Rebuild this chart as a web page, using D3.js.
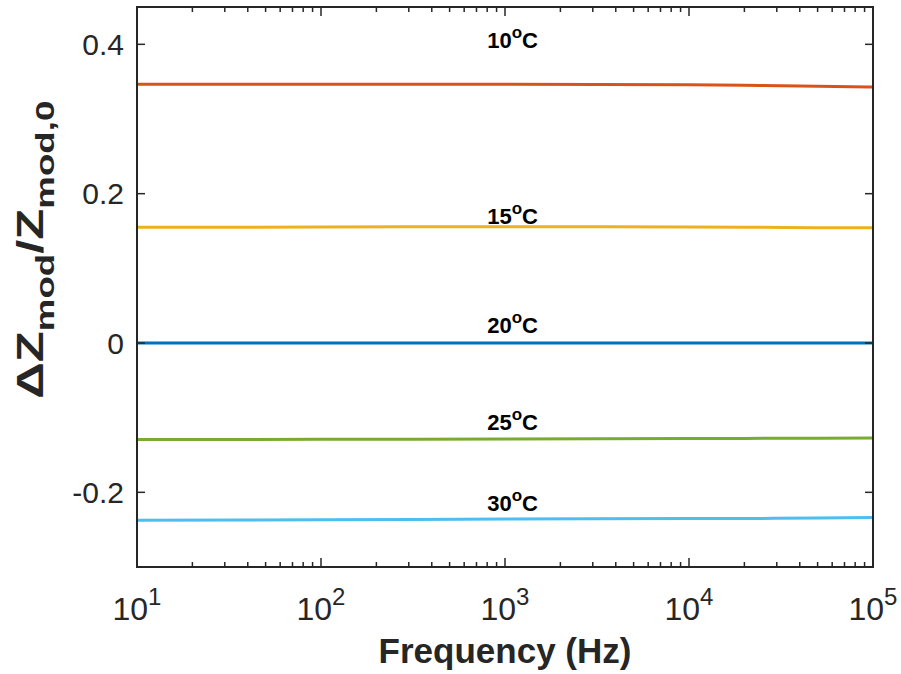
<!DOCTYPE html>
<html>
<head>
<meta charset="utf-8">
<script src="https://cdn.jsdelivr.net/npm/d3@7"></script>
<style>
  body { margin: 0; background: #fff; }
  text { font-family: "Liberation Sans", Arial, sans-serif; }
</style>
</head>
<body>
<div id="chart"></div>
<script>
// frequency points (Hz)
var freq = [10, 100, 1000, 10000, 20000, 50000, 100000];

// relative change of modulus, one array per temperature
var t10 = [0.3467, 0.3466, 0.3464, 0.3458, 0.3452, 0.3440, 0.3427];
var t15 = [0.1550, 0.1553, 0.1558, 0.1555, 0.1550, 0.1545, 0.1542];
var t20 = [0, 0, 0, 0, 0, 0, 0];
var t25 = [-0.1293, -0.1290, -0.1285, -0.1280, -0.1278, -0.1275, -0.1272];
var t30 = [-0.2373, -0.2368, -0.2358, -0.2352, -0.2350, -0.2345, -0.2338];

var seriesNames = ["10", "15", "20", "25", "30"];
var seriesValues = [t10, t15, t20, t25, t30];
// text annotation anchor (data units), as placed on the figure
var labelFreq = 1100;
var labelY = [0.395, 0.160, 0.0133, -0.116, -0.2253];
var colors = ["#D95319", "#EDB120", "#0072BD", "#77AC30", "#4DBEEE"];

var yTicks = [-0.2, 0, 0.2, 0.4];
var xTicks = [10, 100, 1000, 10000, 100000];

var width = 901,
    height = 674;
var margin = {top: 7, right: 28, bottom: 107, left: 137};

var x = d3.scaleLog()
    .domain([10, 100000])
    .range([margin.left, width - margin.right]);

var y = d3.scaleLinear()
    .domain([-0.3, 0.45])
    .range([height - margin.bottom, margin.top]);

var svg = d3.select("#chart")
    .append("svg")
    .attr("width", width)
    .attr("height", height);

// minor log ticks
var minor = [];
for (var d = 10; d < 100000; d *= 10) {
    for (var k = 2; k <= 9; k++) minor.push(d * k);
}

var axisCol = "#262626";
var x0 = margin.left, x1 = width - margin.right;
var y0 = height - margin.bottom, y1 = margin.top;

// lines
var line = d3.line()
    .x(function (d, i) { return x(freq[i]); })
    .y(function (d) { return y(d); })
    .curve(d3.curveMonotoneX);

seriesValues.forEach(function (vals, i) {
    svg.append("path")
        .attr("d", line(vals))
        .attr("fill", "none")
        .attr("stroke", colors[i])
        .attr("stroke-width", 3);
});

// tick marks (inside, top and bottom / left and right)
var ticks = svg.append("g").attr("stroke", axisCol).attr("stroke-width", 1.5);
xTicks.forEach(function (t) {
    ticks.append("line").attr("x1", x(t)).attr("x2", x(t)).attr("y1", y0).attr("y2", y0 - 9);
    ticks.append("line").attr("x1", x(t)).attr("x2", x(t)).attr("y1", y1).attr("y2", y1 + 9);
});
minor.forEach(function (t) {
    ticks.append("line").attr("x1", x(t)).attr("x2", x(t)).attr("y1", y0).attr("y2", y0 - 5);
    ticks.append("line").attr("x1", x(t)).attr("x2", x(t)).attr("y1", y1).attr("y2", y1 + 5);
});
yTicks.forEach(function (t) {
    ticks.append("line").attr("x1", x0).attr("x2", x0 + 8).attr("y1", y(t)).attr("y2", y(t));
    ticks.append("line").attr("x1", x1).attr("x2", x1 - 8).attr("y1", y(t)).attr("y2", y(t));
});

// frame
svg.append("rect")
    .attr("x", x0).attr("y", y1)
    .attr("width", x1 - x0).attr("height", y0 - y1)
    .attr("fill", "none")
    .attr("stroke", axisCol)
    .attr("stroke-width", 2);

// y tick labels
yTicks.forEach(function (t) {
    svg.append("text")
        .attr("x", x0 - 13)
        .attr("y", y(t))
        .attr("dy", "0.36em")
        .attr("text-anchor", "end")
        .attr("font-size", 30)
        .attr("fill", axisCol)
        .text(t === 0 ? "0" : d3.format(".1f")(t).replace("\u2212", "-"));
});

// x tick labels 10^n
xTicks.forEach(function (t) {
    var txt = svg.append("text")
        .attr("x", x(t))
        .attr("y", y0 + 53)
        .attr("text-anchor", "middle")
        .attr("font-size", 32)
        .attr("fill", axisCol);
    txt.append("tspan").text("10");
    txt.append("tspan")
        .attr("font-size", 24)
        .attr("dy", -15)
        .text(Math.round(Math.log10(t)));
});

// x axis title
svg.append("text")
    .attr("x", (x0 + x1) / 2)
    .attr("y", 663)
    .attr("text-anchor", "middle")
    .attr("font-size", 35)
    .attr("font-weight", "bold")
    .attr("fill", axisCol)
    .text("Frequency (Hz)");

// y axis title
var yt = svg.append("text")
    .attr("transform", "translate(43," + y(0.125) + ") rotate(-90)")
    .attr("text-anchor", "middle")
    .attr("font-size", 36)
    .attr("font-weight", "bold")
    .attr("fill", axisCol)
    .attr("textLength", 298)
    .attr("lengthAdjust", "spacingAndGlyphs");
yt.append("tspan").text("\u0394Z");
yt.append("tspan").attr("font-size", 26).attr("dy", 11).text("mod");
yt.append("tspan").attr("dy", -11).text("/Z");
yt.append("tspan").attr("font-size", 26).attr("dy", 11).text("mod,0");

// curve labels
seriesValues.forEach(function (vals, i) {
    var lbl = svg.append("text")
        .attr("x", x(labelFreq))
        .attr("y", y(labelY[i]))
        .attr("text-anchor", "middle")
        .attr("font-size", 22)
        .attr("font-weight", "bold")
        .attr("fill", "#000");
    lbl.append("tspan").text(seriesNames[i]);
    lbl.append("tspan").attr("font-size", 17).attr("dy", -10).text("o");
    lbl.append("tspan").attr("dy", 10).text("C");
});
</script>
</body>
</html>
